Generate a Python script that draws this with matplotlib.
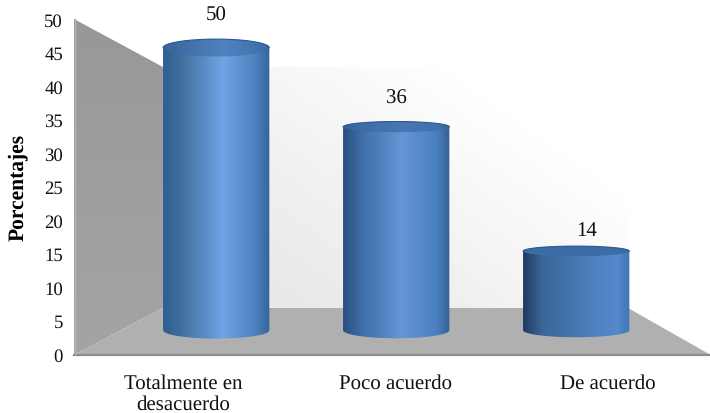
import numpy as np
import matplotlib
matplotlib.use("Agg")
import matplotlib.pyplot as plt
from matplotlib.colors import LinearSegmentedColormap
from matplotlib.patches import Polygon, PathPatch
from matplotlib.path import Path

categories = ["Totalmente en\ndesacuerdo", "Poco acuerdo", "De acuerdo"]
values = [50, 36, 14]
y_ticks = [0, 5, 10, 15, 20, 25, 30, 35, 40, 45, 50]

plt.rcParams["font.family"] = ["Liberation Serif", "DejaVu Serif"]
plt.rcParams["text.hinting"] = "no_hinting"

W, H = 710, 414
fig = plt.figure(figsize=(W / 100, H / 100), dpi=100)

# fondo en pixeles: paredes y piso del grafico 3D
bg = fig.add_axes([0, 0, 1, 1])
bg.set_xlim(0, W)
bg.set_ylim(H, 0)
bg.axis("off")

wall_cmap = LinearSegmentedColormap.from_list("wall", ["#e4e4e4", "#f0f0f0", "#ffffff"])
xx, yy = np.meshgrid(np.linspace(0, 1, 100), np.linspace(0, 1, 100))
wall_img = bg.imshow(0.75 * xx + 0.55 * (1 - yy), cmap=wall_cmap, extent=(163, 628, 309, 68),
                     aspect="auto", vmin=0, vmax=1, zorder=1)
wall_clip = Polygon([(163, 68), (628, 68), (628, 309), (163, 309)], transform=bg.transData, fc="none", ec="none")
bg.add_patch(wall_clip)
wall_img.set_clip_path(wall_clip)

side_cmap = LinearSegmentedColormap.from_list("side", ["#989898", "#a4a4a4"])
side_img = bg.imshow(np.linspace(0, 1, 100).reshape(-1, 1), cmap=side_cmap, extent=(74, 163, 355, 20),
                     aspect="auto", zorder=1)
side_clip = Polygon([(74, 20), (163, 68), (163, 309), (76, 355), (74, 355)], transform=bg.transData, fc="none", ec="none")
bg.add_patch(side_clip)
side_img.set_clip_path(side_clip)

bg.add_patch(Polygon([(163, 309), (628, 309), (709, 355), (76, 355)], fc="#b0b0b0", ec="none", zorder=2))
bg.plot([74, 709], [356, 356], color="#8c8c8c", lw=1.6, zorder=3)
bg.plot([74.5, 74.5], [20, 355], color="#b4b4b4", lw=1, zorder=3)
bg.set_xlim(0, W)
bg.set_ylim(H, 0)

# ejes con los datos
ax = fig.add_axes([74 / W, 1 - 355 / H, 631 / W, 335 / H])
ax.patch.set_alpha(0)
ax.set_xlim(-0.513, 2.456)
ax.set_ylim(0, 50)
for s in ax.spines.values():
    s.set_visible(False)
ax.set_yticks(y_ticks)
ax.set_xticks(range(len(categories)))
ax.set_xticklabels(categories, fontsize=15, linespacing=1.1)
ax.tick_params(axis="y", length=0, labelsize=13.5, pad=8, colors="#111111")
ax.tick_params(axis="x", length=0, pad=14, colors="#111111")
ax.set_ylabel("Porcentajes", fontsize=15.5, fontweight="bold", labelpad=12)

# profundidad: las barras estan en el plano medio
depth = 0.847
base = 3.55
scale_y = 0.843
half_w = 0.25
top_semi = [1.3, 0.8, 0.75]
bottom_semi = [1.25, 1.2, 1.05]
top_alpha = [0.6, 0.7, 1]
label_dx = [0, 0, 10]
label_dy = [24, 24, 16]
stops = [
    ["#2f5c92", "#41719f", "#6fa4e6", "#4a7fbc", "#34639c"],
    ["#2a4f80", "#3f6fa8", "#6596d6", "#4a80c0", "#335f96"],
    ["#1f3a5f", "#3a6699", "#4f82bf", "#5489cb", "#4076b6"],
]
peak = [0.56, 0.55, 0.68]

t = np.linspace(0, np.pi, 60)
for i, v in enumerate(values):
    cx = 1.003 + (i - 1) * depth
    y0 = base
    y1 = base + v * scale_y
    xs = cx + half_w * np.cos(t)
    # silueta completa del cilindro, la tapa va encima
    body_x = np.concatenate([xs[::-1], xs])
    body_y = np.concatenate([y0 - bottom_semi[i] * np.sin(t[::-1]), y1 + top_semi[i] * np.sin(t)])
    verts = np.column_stack([body_x, body_y])
    path = Path(np.vstack([verts, verts[0]]), closed=True)
    cmap = LinearSegmentedColormap.from_list(
        "bar%d" % i,
        list(zip([0, 0.18, peak[i], 0.88, 1], stops[i])),
    )
    grad = np.linspace(0, 1, 256).reshape(1, -1)
    im = ax.imshow(grad, cmap=cmap, extent=(cx - half_w, cx + half_w, y0 - 2, y1 + 2), aspect="auto", zorder=4)
    patch = PathPatch(path, fc="none", ec="none", transform=ax.transData)
    ax.add_patch(patch)
    im.set_clip_path(patch)
    # tapa
    ang = np.linspace(0, 2 * np.pi, 120)
    top = Polygon(np.column_stack([cx + half_w * np.cos(ang), y1 + top_semi[i] * np.sin(ang)]),
                  fc="#3c6ca6", ec="none", alpha=top_alpha[i], zorder=5)
    ax.add_patch(top)
    ax.plot(cx + half_w * np.cos(t), y1 + top_semi[i] * np.sin(t), color="#2f5a8e", lw=0.8, zorder=6)
    ax.annotate(str(v), (cx, y1 + top_semi[i]), xytext=(label_dx[i] * 0.72, label_dy[i] * 0.72),
                textcoords="offset points", ha="center", va="center", fontsize=15, color="#111111",
                annotation_clip=False, zorder=6)

ax.set_xlim(-0.513, 2.456)
ax.set_ylim(0, 50)

fig.savefig("out.png", dpi=100)
